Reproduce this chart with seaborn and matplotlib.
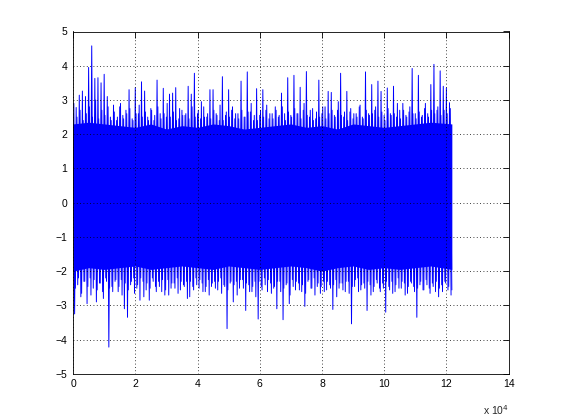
import numpy as np
import pandas as pd
import matplotlib
matplotlib.use("Agg")
import matplotlib.pyplot as plt
import seaborn as sns

# main excursions of the signal, one pair per 1000 samples
upper_peaks = [2.6, 2.78, 3.14, 3.26, 3.1, 3.95, 4.58, 3.63, 3.65, 3.5,
               3.75, 3.1, 2.5, 2.85, 2.4, 2.8, 2.55, 2.7, 3.3, 2.45,
               3.36, 2.6, 3.53, 3.26, 2.5, 2.75, 2.4, 3.58, 2.6, 3.34,
               2.5, 3.17, 3.2, 3.36, 2.45, 2.7, 2.55, 3.4, 3.17, 3.78,
               2.6, 2.45, 2.8, 2.5, 3.3, 3.3, 2.6, 2.4, 3.68, 2.55,
               3.3, 2.7, 2.45, 2.6, 3.55, 2.5, 3.82, 2.65, 2.4, 3.33,
               2.55, 3.3, 2.7, 2.45, 2.6, 2.8, 2.5, 3.2, 2.6, 3.65,
               2.55, 3.72, 2.6, 3.37, 2.7, 3.83, 2.5, 2.75, 2.45, 3.58,
               2.6, 2.8, 3.25, 3.22, 2.55, 2.7, 3.78, 2.5, 3.25, 2.65,
               2.45, 2.6, 2.8, 2.5, 3.82, 2.6, 3.45, 2.7, 3.55, 3.25,
               2.55, 3.35, 2.6, 3.4, 2.5, 2.7, 2.9, 2.55, 2.65, 3.92,
               2.6, 3.72, 2.5, 2.75, 2.6, 3.45, 4.04, 2.7, 3.85, 3.4,
               3.35, 2.92]
lower_peaks = [-3.25, -2.4, -2.75, -2.3, -2.95, -2.2, -2.5, -2.9, -2.35, -2.6,
               -2.2, -4.22, -2.45, -2.3, -2.6, -2.25, -3.1, -3.35, -2.4, -2.2,
               -2.5, -2.85, -2.3, -2.55, -2.85, -2.2, -2.45, -2.3, -2.6, -2.7,
               -2.25, -2.5, -2.35, -2.2, -2.55, -2.4, -2.3, -2.75, -2.45, -2.2,
               -2.5, -2.35, -2.6, -2.25, -2.45, -2.3, -2.55, -2.2, -2.4, -3.68,
               -2.35, -2.9, -2.3, -2.5, -2.25, -3.15, -2.4, -2.6, -2.3, -3.4,
               -2.45, -2.2, -2.6, -2.35, -2.5, -3.1, -2.3, -3.42, -2.4, -2.95,
               -2.25, -2.55, -2.35, -2.6, -3.03, -2.3, -2.5, -2.2, -2.45, -2.65,
               -2.3, -2.55, -2.4, -3.12, -2.25, -2.5, -2.35, -2.6, -2.3, -3.54,
               -2.45, -2.2, -2.55, -2.35, -3.15, -2.4, -2.6, -2.25, -2.5, -2.35,
               -3.2, -2.45, -2.3, -2.6, -2.2, -2.5, -2.35, -2.65, -2.3, -2.45,
               -3.35, -2.4, -2.55, -2.25, -2.5, -2.35, -2.6, -2.75, -2.4, -2.3,
               -2.55, -2.7]

# smaller excursions in between, offset by 250 samples
upper_minor = [2.9, 2.5, 2.7, 2.4, 2.6, 2.8, 2.5, 3.0, 2.45, 2.7,
               2.55, 2.8, 2.4, 2.65, 2.5, 2.9, 2.45, 2.6, 2.75, 2.4,
               2.6, 2.85, 2.5, 2.65, 2.4, 2.7, 2.55, 2.8, 2.45, 2.6,
               2.9, 2.5, 2.65, 2.4, 2.75, 2.55, 2.6, 2.45, 2.8, 2.5,
               2.7, 2.95, 2.5, 2.6, 2.45, 2.7, 2.55, 2.85, 2.4, 2.65,
               2.5, 2.8, 2.6, 2.45, 2.7, 2.5, 2.65, 2.9, 2.55, 2.4,
               2.7, 2.5, 2.85, 2.6, 2.45, 2.7, 2.55, 2.8, 2.4, 2.65,
               2.5, 2.75, 2.6, 2.45, 2.9, 2.55, 2.7, 2.4, 2.65, 2.5,
               2.8, 2.45, 2.6, 2.7, 2.5, 2.95, 2.55, 2.65, 2.4, 2.75,
               2.6, 2.5, 2.85, 2.45, 2.7, 2.55, 2.6, 2.8, 2.5, 2.65,
               2.4, 2.75, 2.55, 2.6, 2.9, 2.45, 2.7, 2.5, 2.8, 2.6,
               2.45, 2.65, 2.55, 2.9, 2.5, 2.7, 2.6, 2.8, 2.55, 2.7,
               2.6, 2.75]
lower_minor = [-2.5, -2.2, -2.65, -2.3, -2.45, -2.7, -2.25, -2.55, -2.35, -2.8,
               -2.3, -2.5, -2.6, -2.25, -2.45, -2.7, -2.35, -2.55, -2.3, -2.65,
               -2.4, -2.2, -2.75, -2.35, -2.5, -2.3, -2.6, -2.45, -2.25, -2.55,
               -2.7, -2.35, -2.5, -2.65, -2.3, -2.45, -2.8, -2.3, -2.55, -2.4,
               -2.25, -2.6, -2.45, -2.7, -2.35, -2.5, -2.3, -2.65, -2.45, -2.55,
               -2.3, -2.4, -2.7, -2.25, -2.5, -2.35, -2.6, -2.45, -2.75, -2.3,
               -2.55, -2.4, -2.25, -2.65, -2.45, -2.3, -2.6, -2.5, -2.35, -2.7,
               -2.45, -2.3, -2.55, -2.4, -2.65, -2.25, -2.5, -2.7, -2.35, -2.45,
               -2.6, -2.3, -2.5, -2.4, -2.75, -2.35, -2.55, -2.3, -2.65, -2.45,
               -2.25, -2.6, -2.4, -2.5, -2.3, -2.7, -2.45, -2.35, -2.6, -2.5,
               -2.3, -2.55, -2.65, -2.4, -2.5, -2.3, -2.7, -2.45, -2.35, -2.6,
               -2.5, -2.3, -2.55, -2.4, -2.65, -2.45, -2.3, -2.5, -2.6, -2.35,
               -2.45, -2.55]
step = 1000

# solid core of the signal, one pair per 5000 samples
core_top = [2.3, 2.35, 2.3, 2.25, 2.2, 2.3, 2.15, 2.25, 2.2, 2.3, 2.25, 2.15, 2.2,
            2.25, 2.3, 2.2, 2.25, 2.15, 2.3, 2.25, 2.2, 2.25, 2.3, 2.35, 2.3]
core_bottom = [-2.0, -1.9, -1.95, -1.9, -1.85, -1.95, -1.9, -1.85, -1.9, -1.95,
               -1.85, -1.9, -1.95, -1.9, -1.85, -1.9, -2.0, -1.9, -1.85, -1.95,
               -1.9, -1.95, -1.9, -1.85, -1.95]
core_step = 5000

xticks = [0, 20000, 40000, 60000, 80000, 100000, 120000, 140000]
xtick_labels = ['0', '2', '4', '6', '8', '10', '12', '14']
yticks = [-5, -4, -3, -2, -1, 0, 1, 2, 3, 4, 5]


def zigzag(tops, bottoms, offset, name):
    n = len(tops)
    idx = np.arange(n) * step + offset
    sample = np.empty(2 * n)
    value = np.empty(2 * n)
    sample[0::2] = idx
    sample[1::2] = idx + step / 2
    value[0::2] = tops
    value[1::2] = bottoms
    return pd.DataFrame({'sample': sample, 'value': value, 'series': name})


df = pd.concat([zigzag(upper_peaks, lower_peaks, 0, 'main'),
                zigzag(upper_minor, lower_minor, 250, 'minor')],
               ignore_index=True)
core_x = np.arange(len(core_top)) * core_step
core_x[-1] = df['sample'].max()

sns.set_style("white")
plt.rcParams['font.family'] = ['Liberation Sans', 'DejaVu Sans']

fig = plt.figure(figsize=(5.62, 4.2), dpi=100)
ax = fig.add_axes([0.13, 0.11, 0.775, 0.815])
ax.fill_between(core_x, core_bottom, core_top, color='#0000ff', lw=0)
sns.lineplot(data=df, x='sample', y='value', units='series', estimator=None,
             sort=False, color='#0000ff', lw=0.7, ax=ax)

ax.set_xlim(0, 140000)
ax.set_ylim(-5, 5)
ax.set_xticks(xticks)
ax.set_xticklabels(xtick_labels)
ax.set_yticks(yticks)
ax.set_xlabel('')
ax.set_ylabel('')
ax.grid(True, color='k', linestyle=(0, (1, 3)), linewidth=0.6)
ax.set_axisbelow(False)
ax.tick_params(direction='in', length=4, width=0.6, top=True, right=True,
               labelsize=7.5, colors='k', pad=4)
for s in ax.spines.values():
    s.set_color('k')
    s.set_linewidth(0.6)
ax.text(1.0, -0.085, r'x 10$^4$', transform=ax.transAxes, ha='right',
        va='top', fontsize=7.5)

fig.savefig('out.png', dpi=100)
